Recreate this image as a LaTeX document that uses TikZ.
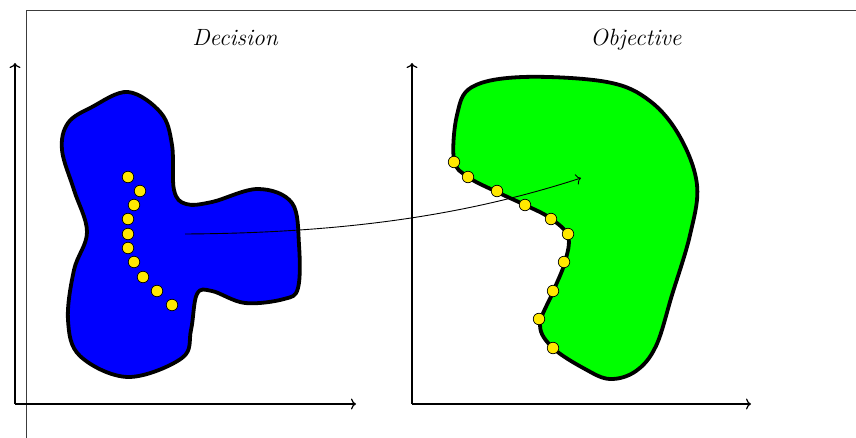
\documentclass[tikz,border=0pt]{standalone}
\usetikzlibrary{arrows.meta}
\definecolor{dotyellow}{RGB}{255,232,0}
\definecolor{frameg}{RGB}{60,60,60}
\tikzset{
  blob/.style={draw=black, line width=3.8pt, line join=round},
  pt/.style={circle, draw=black, line width=0.7pt, fill=dotyellow, minimum size=11.5pt, inner sep=0pt},
  axis/.style={line width=1.2pt, -{To[length=5pt,width=11pt]}},
  frame/.style={draw=frameg, line width=1pt},
  title/.style={font=\fontsize{23.5}{28}\selectfont\itshape, anchor=base},
  maparrow/.style={line width=0.9pt, -{To[length=5pt,width=11pt]}}
}
\begin{document}
\begin{tikzpicture}[x=1pt,y=-1pt]
\useasboundingbox (0,0) rectangle (856,438);
% frame
\draw[frame] (26,438) -- (26,11) -- (856,11);
% titles
\node[title] (dec) at (235,46) {Decision};
\node[title] (obj) at (636,46) {Objective};
% axes
\coordinate (o1) at (15,404);
\coordinate (y1) at (15,63);
\coordinate (x1) at (356,404);
\coordinate (o2) at (412,404);
\coordinate (y2) at (412,63);
\coordinate (x2) at (751,404);
\draw[axis] (o1) -- (y1);
\draw[axis] (o1) -- (x1);
\draw[axis] (o2) -- (y2);
\draw[axis] (o2) -- (x2);
% decision set
\draw[blob, fill=blue] plot[smooth cycle, tension=0.6] coordinates {
 (128,92) (161,113) (172,145) (174,190) (186,204) (212,202) (258,189) (292,203)
 (299,245) (298,288) (284,299) (245,303) (212,291) (197,294) (191,330)
 (182,358) (128,377) (80,356) (68,320) (74,270) (87,232)
 (74,190) (62,150) (68,123) (92,107)};
% objective set
\draw[blob, fill=green] plot[smooth cycle, tension=0.6] coordinates {
 (472,87) (523,77) (607,82) (650,101) (680,137) (697,185) (690,235)
 (672,295) (656,346) (636,371) (610,379) (585,369) (553,348) (540,325)
 (553,292) (565,262) (568,236) (550,218) (525,205) (497,192) (468,177)
 (454,160) (457,115)};
% mapping arrow
\coordinate (a0) at (185,234);
\coordinate (a1) at (581,178);
\draw[maparrow] (a0) .. controls (350,233) and (470,214) .. (a1);
% decision points
\foreach \n/\x/\y in {1/128/177, 2/140/191, 3/134/205, 4/128/219, 5/128/234,
  6/128/248, 7/134/262, 8/143/277, 9/157/291, 10/172/305}
  \node[pt] (d\n) at (\x,\y) {};
% objective points
\foreach \n/\x/\y in {1/454/162, 2/468/177, 3/497/191, 4/525/205, 5/551/219,
  6/568/234, 7/564/262, 8/553/291, 9/539/319, 10/553/348}
  \node[pt] (p\n) at (\x,\y) {};
\end{tikzpicture}
\end{document}
